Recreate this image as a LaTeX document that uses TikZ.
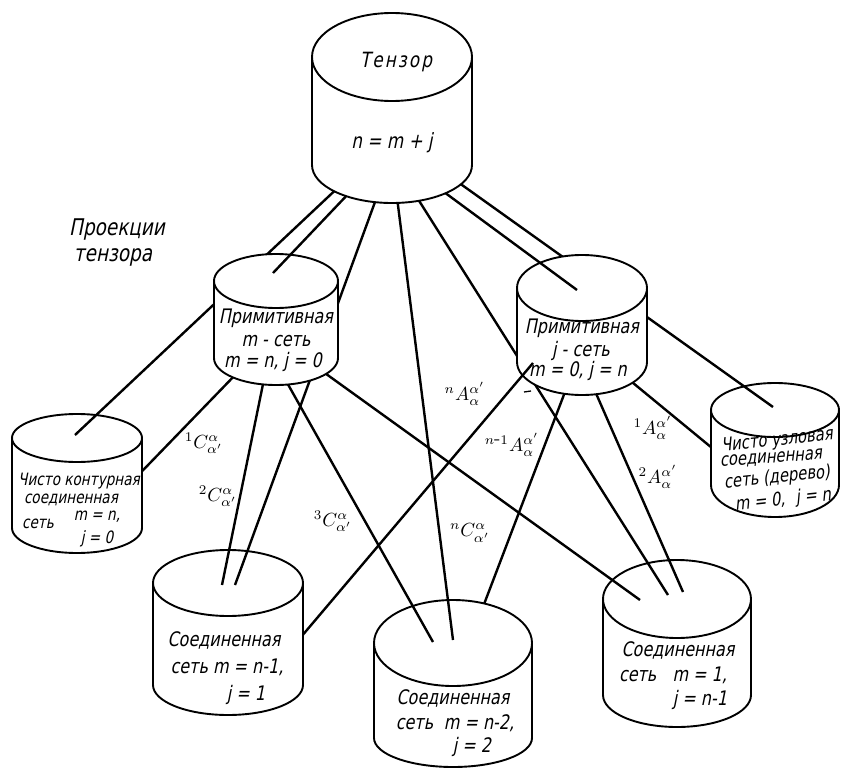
\documentclass[tikz,border=0pt]{standalone}
\usepackage{fontspec}
\newfontfamily\gost[FakeSlant=0.2,FakeStretch=0.8]{DejaVu Sans}
\newfontfamily\gostsp[FakeSlant=0.2,FakeStretch=0.8,LetterSpace=10]{DejaVu Sans}
\newcommand\drawcyl[6]{% cx, cyt, rx, ryt, cyb, ryb
  \fill[white] (#1-#3,#2) rectangle (#1+#3,#5);
  \fill[white] (#1,#2) ellipse [x radius=#3pt, y radius=#4pt];
  \fill[white] (#1,#5) ellipse [x radius=#3pt, y radius=#6pt];
  \begin{scope}
    \clip (#1-#3-5,#5) rectangle (#1+#3+5,#5+#6+5);
    \draw[cylout] (#1,#5) ellipse [x radius=#3pt, y radius=#6pt];
  \end{scope}
  \draw[cylout] (#1-#3,#2) -- (#1-#3,#5) (#1+#3,#2) -- (#1+#3,#5);
  \draw[cylout] (#1,#2) ellipse [x radius=#3pt, y radius=#4pt];
}
\newcommand\topclip[4]{\clip (#1,#2) ellipse [x radius=#3pt, y radius=#4pt];}
\begin{document}
\begin{tikzpicture}[x=1pt,y=-1pt,
  conn/.style={line width=2.4pt},
  cylout/.style={line width=1.9pt},
  bigt/.style={font=\gost\fontsize{20}{20}\selectfont, inner sep=0pt},
  midt/.style={font=\gost\fontsize{18.5}{18.5}\selectfont, inner sep=0pt},
  smallt/.style={font=\gost\fontsize{17}{17}\selectfont, inner sep=0pt},
  lbl/.style={font=\fontsize{10}{10}\selectfont, inner sep=0pt, scale=1.9}]
\fill[white] (0,0) rectangle (846,768);
\useasboundingbox (0,0) rectangle (846,768);

% named end points
\coordinate (tA) at (378,150); \coordinate (contA) at (75,435);
\coordinate (tB) at (390,150); \coordinate (mnetB) at (273,273);
\coordinate (tC) at (394,150); \coordinate (cOneC) at (235,585);
\coordinate (tD) at (391,150); \coordinate (cTwoD) at (453,640);
\coordinate (tE) at (387,150); \coordinate (cThreeE) at (668,595);
\coordinate (tF) at (387,150); \coordinate (jnetF) at (577,290);
\coordinate (tG) at (413,150); \coordinate (treeG) at (773,407);
\coordinate (mOne) at (269,340); \coordinate (contOne) at (120,494);
\coordinate (mTwo) at (272,340); \coordinate (cOneTwo) at (222,585);
\coordinate (mThree) at (263,340); \coordinate (cTwoThree) at (433,642);
\coordinate (mN) at (279,340); \coordinate (cThreeN) at (640,600);
\coordinate (jOne) at (593,350); \coordinate (treeOne) at (740,471);
\coordinate (jTwo) at (577,350); \coordinate (cThreeTwo) at (683,592);
\coordinate (jNm) at (581,350); \coordinate (cTwoNm) at (478,620);
\coordinate (jN) at (533,363); \coordinate (cOneN) at (290,650);
\coordinate (dashL) at (524,392); \coordinate (dashR) at (531,391);

% connectors (background)
\draw[conn] (tA) -- (contA);
\draw[conn] (tB) -- (mnetB);
\draw[conn] (tC) -- (cOneC);
\draw[conn] (tD) -- (cTwoD);
\draw[conn] (tE) -- (cThreeE);
\draw[conn] (tF) -- (jnetF);
\draw[conn] (tG) -- (treeG);
\draw[conn] (mOne) -- (contOne);
\draw[conn] (mTwo) -- (cOneTwo);
\draw[conn] (mThree) -- (cTwoThree);
\draw[conn] (mN) -- (cThreeN);
\draw[conn] (jOne) -- (treeOne);
\draw[conn] (jTwo) -- (cThreeTwo);
\draw[conn] (jNm) -- (cTwoNm);

% upper cylinders
\drawcyl{392}{57}{80}{44}{165}{38}
\drawcyl{276}{281}{62}{27}{358}{27}
\drawcyl{582}{288}{65}{33}{362}{33}

\draw[conn] (jN) -- (cOneN);
\draw[line width=1.3pt] (dashL) -- (dashR);

% lower cylinders
\drawcyl{77}{438}{65}{24}{528}{25}
\drawcyl{775}{410}{64}{27}{485}{32}
\drawcyl{228}{583}{75}{33}{685}{30}
\drawcyl{453}{643}{79}{43}{738}{29}
\drawcyl{677}{599}{74}{39}{695}{32}

% line ends on the top faces
\begin{scope}\topclip{77}{438}{65}{24}\draw[conn] (tA) -- (contA);\end{scope}
\begin{scope}\topclip{276}{281}{62}{27}\draw[conn] (tB) -- (mnetB);\end{scope}
\begin{scope}\topclip{582}{288}{65}{33}\draw[conn] (tF) -- (jnetF);\end{scope}
\begin{scope}\topclip{775}{410}{64}{27}\draw[conn] (tG) -- (treeG);\end{scope}
\begin{scope}\topclip{228}{583}{75}{33}\draw[conn] (tC) -- (cOneC); \draw[conn] (mTwo) -- (cOneTwo);\end{scope}
\begin{scope}\topclip{453}{643}{79}{43}\draw[conn] (tD) -- (cTwoD); \draw[conn] (mThree) -- (cTwoThree);\end{scope}
\begin{scope}\topclip{677}{599}{74}{39}\draw[conn] (tE) -- (cThreeE); \draw[conn] (mN) -- (cThreeN); \draw[conn] (jTwo) -- (cThreeTwo);\end{scope}

% texts
\node[font=\gostsp\fontsize{21}{21}\selectfont, inner sep=0pt] (tenA) at (396,62) {Тензор};
\node[font=\gost\fontsize{21}{21}\selectfont, inner sep=0pt] (tenB) at (392,143) {n = m + j};

\node[font=\gost\fontsize{23}{23}\selectfont, inner sep=0pt] (proA) at (117,230) {Проекции};
\node[font=\gost\fontsize{23}{23}\selectfont, inner sep=0pt] (proB) at (113,257) {тензора};

\node[bigt] (mnA) at (276,318) {Примитивная};
\node[bigt] (mnB) at (276,341) {m - сеть};
\node[bigt] (mnC) at (273,362) {m = n, j = 0};

\node[bigt] (jnA) at (582,328) {Примитивная};
\node[bigt] (jnB) at (581,351) {j - сеть};
\node[bigt] (jnC) at (578,371) {m = 0, j = n};

\node[midt,rotate=6] (trA) at (777,441) {Чисто узловая};
\node[midt,rotate=4] (trB) at (771,459) {соединенная};
\node[midt,rotate=6] (trC) at (777,478) {сеть (дерево)};
\node[midt,rotate=6] (trD) at (783,500) {m = 0,\,\, j = n};

\node[smallt] (coA) at (79,481) {Чисто контурная};
\node[smallt] (coB) at (71,500) {соединенная};
\node[smallt] (coC) at (38,524) {сеть};
\node[smallt] (coD) at (97,517) {m = n,};
\node[smallt] (coE) at (97,539) {j = 0};

\node[bigt] (oneA) at (224,640) {Соединенная};
\node[bigt] (oneB) at (227,667) {сеть m = n-1,};
\node[bigt] (oneC) at (246,695) {j = 1};

\node[bigt] (twoA) at (453,698) {Соединенная};
\node[bigt] (twoB) at (455,723) {сеть\; m = n-2,};
\node[bigt] (twoC) at (472,747) {j = 2};

\node[bigt] (thrA) at (678,650) {Соединенная};
\node[bigt] (thrB) at (673,675) {сеть\;\; m = 1,};
\node[bigt] (thrC) at (700,700) {j = n-1};

% labels
\node[lbl] (lOneC) at (204,443) {$^{1}C^{\alpha}_{\alpha'}$};
\node[lbl] (lTwoC) at (218,496) {$^{2}C^{\alpha}_{\alpha'}$};
\node[lbl] (lThreeC) at (333,521) {$^{3}C^{\alpha}_{\alpha'}$};
\node[lbl] (lNC) at (470,533) {$^{n}C^{\alpha}_{\alpha'}$};
\node[lbl] (lNA) at (465,394) {$^{n}A^{\alpha'}_{\alpha}$};
\node[lbl] (lNmA) at (512,445) {$^{n\mbox{-}1}A^{\alpha'}_{\alpha}$};
\node[lbl] (lOneA) at (653,428) {$^{1}A^{\alpha'}_{\alpha}$};
\node[lbl] (lTwoA) at (658,477) {$^{2}A^{\alpha'}_{\alpha}$};
\end{tikzpicture}
\end{document}
